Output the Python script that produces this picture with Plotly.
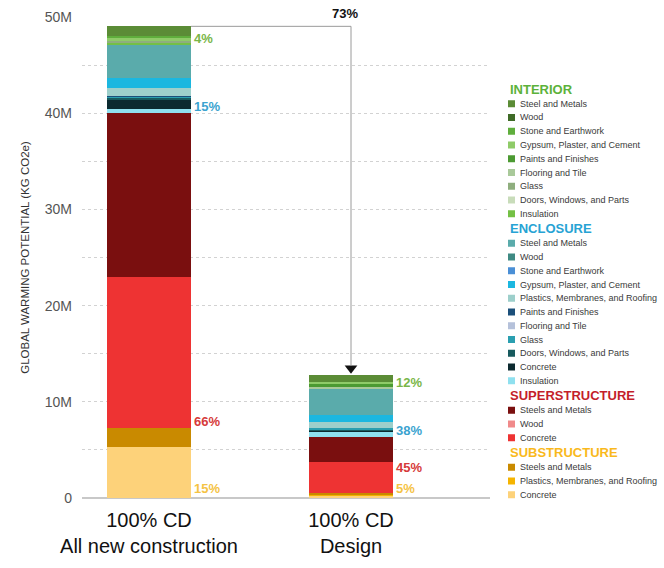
import plotly.graph_objects as go

# ---------------- data ----------------
scenarios = ["100% CD<br>All new construction", "100% CD<br>Design"]

groups = ["INTERIOR", "ENCLOSURE", "SUPERSTRUCTURE", "SUBSTRUCTURE"]

interior_materials = ["Steel and Metals", "Wood", "Stone and Earthwork",
                      "Gypsum, Plaster, and Cement", "Paints and Finishes",
                      "Flooring and Tile", "Glass", "Doors, Windows, and Parts",
                      "Insulation"]
interior_new = [1.04, 0.0, 0.21, 0.28, 0.0, 0.0, 0.14, 0.0, 0.28]
interior_design = [0.69, 0.0, 0.0, 0.28, 0.24, 0.28, 0.0, 0.0, 0.0]

enclosure_materials = ["Steel and Metals", "Wood", "Stone and Earthwork",
                       "Gypsum, Plaster, and Cement",
                       "Plastics, Membranes, and Roofing", "Paints and Finishes",
                       "Flooring and Tile", "Glass", "Doors, Windows, and Parts",
                       "Concrete", "Insulation"]
enclosure_new = [3.47, 0.0, 0.0, 1.04, 0.76, 0.05, 0.0, 0.12, 0.22, 1.0, 0.45]
enclosure_design = [2.67, 0.0, 0.0, 0.76, 0.63, 0.0, 0.0, 0.1, 0.12, 0.15, 0.49]

superstructure_materials = ["Steels and Metals", "Wood", "Concrete"]
superstructure_new = [16.97, 0.0, 15.74]
superstructure_design = [2.64, 0.0, 3.23]

substructure_materials = ["Steels and Metals", "Plastics, Membranes, and Roofing",
                          "Concrete"]
substructure_new = [1.92, 0.0, 5.34]
substructure_design = [0.15, 0.15, 0.22]

# share labels per group (top-down group order), per scenario
share_labels_new = ["4%", "15%", "66%", "15%"]
share_labels_design = ["12%", "38%", "45%", "5%"]
reduction_label = "73%"

y_ticks = [0, 10, 20, 30, 40, 50]
y_ticktext = ["0", "10M", "20M", "30M", "40M", "50M"]

# ---------------- styles ----------------
interior_colors = ["#5b8c36", "#3f6b27", "#5fae3c", "#8fcb68", "#4c9a32",
                   "#a9c99a", "#8fae7e", "#c8dcba", "#74c045"]
enclosure_colors = ["#5aabab", "#3f8a83", "#4a8fd6", "#1bb7e0", "#9dcfcb",
                    "#1b4f7a", "#b5c1da", "#2a9fb0", "#175a5e", "#0c2a30",
                    "#8fe0ef"]
superstructure_colors = ["#7a0f0f", "#f08a8a", "#ee3333"]
substructure_colors = ["#c98a00", "#f5b400", "#fdd27a"]

group_title_colors = ["#5cb23a", "#27a3d4", "#c41e2a", "#f9b91c"]
share_colors = ["#7ab648", "#3ba3cf", "#d63a3a", "#f5c344"]

group_materials = [interior_materials, enclosure_materials,
                   superstructure_materials, substructure_materials]
group_new = [interior_new, enclosure_new, superstructure_new, substructure_new]
group_design = [interior_design, enclosure_design, superstructure_design,
                substructure_design]
group_colors = [interior_colors, enclosure_colors, superstructure_colors,
                substructure_colors]

M = 1e6
W, H = 664, 568
L, R, T, B = 82, 174, 17, 70
PW, PH = W - L - R, H - T - B
BAR_W = 0.415
X_RANGE = [-67 / 202, 1 + (PW - 269) / 202]

fig = go.Figure()

# stacked bars: bottom group first, bottom material first
for g in reversed(range(len(groups))):
    mats = group_materials[g]
    for i in reversed(range(len(mats))):
        fig.add_trace(go.Bar(
            x=[0, 1],
            y=[group_new[g][i] * M, group_design[g][i] * M],
            marker=dict(color=group_colors[g][i], line=dict(width=0)),
            width=BAR_W,
            name=f"{groups[g]} - {mats[i]}",
            showlegend=False,
            hoverinfo="name+y",
        ))

annotations = []
shapes = []

# share labels to right of each bar, near bottom of each group
for xi, (vals, labels) in enumerate([(group_new, share_labels_new),
                                      (group_design, share_labels_design)]):
    sums = [sum(v) for v in vals]
    cum = 0.0
    bottoms = []
    for g in reversed(range(len(groups))):
        bottoms.insert(0, cum)
        cum += sums[g]
    for g in range(len(groups)):
        yshift = -3
        if g == len(groups) - 1:
            yshift = 0
        elif g == len(groups) - 2 and sums[len(groups) - 1] < 1.5:
            yshift = 16
        annotations.append(dict(
            x=xi + BAR_W / 2, y=bottoms[g] * M, xref="x", yref="y",
            xanchor="left", yanchor="bottom", xshift=1, yshift=yshift,
            text=f"<b>{labels[g]}</b>", showarrow=False,
            font=dict(family="Arial", size=13, color=share_colors[g]),
        ))

total_new = sum(sum(v) for v in group_new)
total_design = sum(sum(v) for v in group_design)

# reduction arrow
shapes.append(dict(type="line", xref="x", yref="y",
                   x0=BAR_W / 2, x1=1, y0=total_new * M, y1=total_new * M,
                   line=dict(color="#9a9a9a", width=1)))
shapes.append(dict(type="line", xref="x", yref="y",
                   x0=1, x1=1, y0=total_new * M, y1=(total_design + 1.0) * M,
                   line=dict(color="#9a9a9a", width=1)))
fig.add_trace(go.Scatter(
    x=[1], y=[(total_design + 0.68) * M], mode="markers",
    marker=dict(symbol="triangle-down", size=11, color="#111111"),
    showlegend=False, hoverinfo="skip", cliponaxis=False,
))
annotations.append(dict(
    x=1, y=total_new * M, xref="x", yref="y", xanchor="center",
    yanchor="bottom", xshift=-6, yshift=3, showarrow=False,
    text=f"<b>{reduction_label}</b>",
    font=dict(family="Arial", size=13, color="#111111"),
))

# custom compact legend
def px_to_paper_x(px):
    return (px - L) / PW

def px_to_paper_y(py):
    return (H - B - py) / PH

y_cur = 89.0
HEADER_STEP = 14.75
ITEM_STEP = 13.75
for g in range(len(groups)):
    if g > 0:
        y_cur += HEADER_STEP
    annotations.append(dict(
        x=px_to_paper_x(508), y=px_to_paper_y(y_cur), xref="paper",
        yref="paper", xanchor="left", yanchor="middle", showarrow=False,
        text=f"<b>{groups[g]}</b>",
        font=dict(family="Arial", size=13, color=group_title_colors[g]),
    ))
    y_cur += HEADER_STEP
    for i, mat in enumerate(group_materials[g]):
        if i > 0:
            y_cur += ITEM_STEP
        shapes.append(dict(
            type="rect", xref="paper", yref="paper",
            xsizemode="pixel", ysizemode="pixel",
            xanchor=px_to_paper_x(508), yanchor=px_to_paper_y(y_cur),
            x0=0, x1=7, y0=-3.5, y1=3.5,
            fillcolor=group_colors[g][i], line=dict(width=0),
        ))
        annotations.append(dict(
            x=px_to_paper_x(518), y=px_to_paper_y(y_cur), xref="paper",
            yref="paper", xanchor="left", yanchor="middle", showarrow=False,
            text=mat, font=dict(family="Arial", size=9, color="#3a3a3a"),
        ))

fig.update_layout(
    width=W, height=H,
    margin=dict(l=L, r=R, t=T, b=B, pad=0, autoexpand=False),
    barmode="stack",
    bargap=0,
    plot_bgcolor="white",
    paper_bgcolor="white",
    annotations=annotations,
    shapes=shapes,
    showlegend=False,
    xaxis=dict(
        tickmode="array", tickvals=[0, 1], ticktext=scenarios,
        range=X_RANGE, showgrid=False, zeroline=False, showline=False,
        ticks="", ticklabelstandoff=8, automargin=False,
        tickfont=dict(family="Arial", size=20, color="#111111"),
    ),
    yaxis=dict(
        range=[0, 50 * M], automargin=False,
        tickmode="array", tickvals=[v * M for v in y_ticks], ticktext=y_ticktext,
        tickfont=dict(family="Arial", size=14, color="#555555"),
        ticks="", ticklabelstandoff=9,
        showgrid=True, gridcolor="#d2d2d2", griddash="dot", gridwidth=1,
        minor=dict(dtick=5 * M, showgrid=True, gridcolor="#d2d2d2",
                   griddash="dot", gridwidth=1),
        zeroline=True, zerolinecolor="#c8c8c8", zerolinewidth=2,
        showline=False,
        title=dict(text="GLOBAL WARMING POTENTIAL (KG CO2e)", standoff=12,
                   font=dict(family="Arial", size=11.5, color="#333333")),
    ),
)

fig.write_html("out.html")
